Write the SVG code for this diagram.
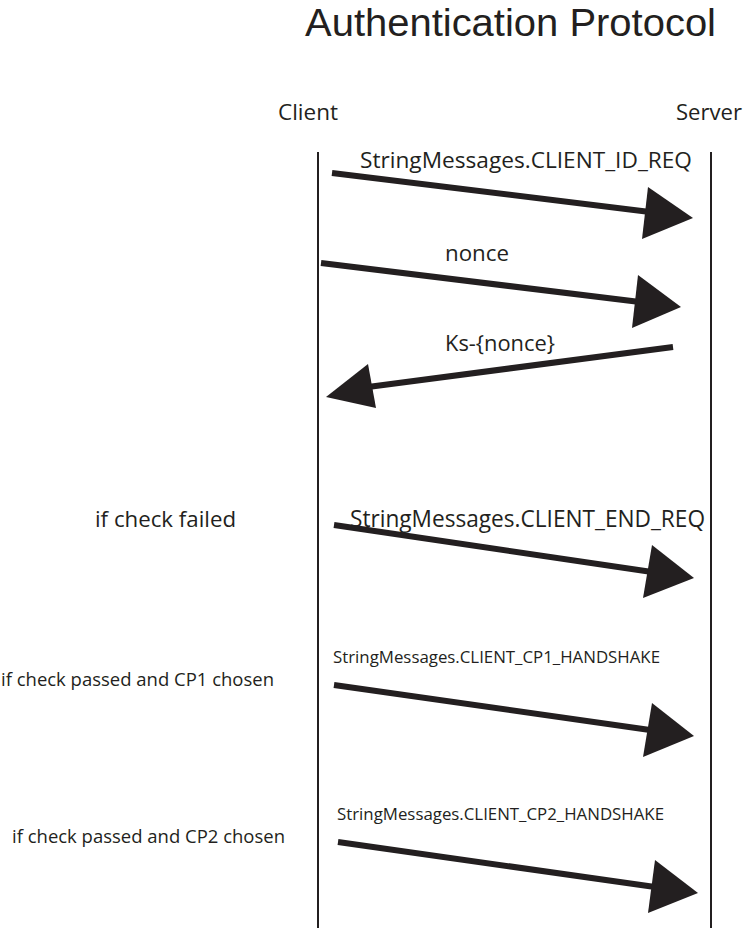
<svg xmlns="http://www.w3.org/2000/svg" width="743" height="930" viewBox="0 0 743 930">
<style>
text{font-family:"Open Sans","Liberation Sans",sans-serif;fill:#231f20}
.life{stroke:#231f20;stroke-width:2;fill:none}
.shaft{stroke:#231f20;stroke-width:6;fill:none}
.head{fill:#231f20}
</style>
<rect width="743" height="930" fill="#fff"/>
<g id="title"><text x="305" y="36" font-size="38" style="font-family:'Liberation Sans',Arial,sans-serif" textLength="411" lengthAdjust="spacingAndGlyphs">Authentication Protocol</text></g>
<g id="client"><text x="278" y="120" font-size="22" textLength="60" lengthAdjust="spacingAndGlyphs">Client</text><line class="life" x1="318" y1="152" x2="318" y2="928"/></g>
<g id="server"><text x="676" y="120" font-size="22" textLength="66" lengthAdjust="spacingAndGlyphs">Server</text><line class="life" x1="711" y1="152" x2="711" y2="928"/></g>
<g id="conditions">
<text x="95" y="527" font-size="22" textLength="141" lengthAdjust="spacingAndGlyphs">if check failed</text>
<text x="1" y="686" font-size="19" textLength="273" lengthAdjust="spacingAndGlyphs">if check passed and CP1 chosen</text>
<text x="12" y="843" font-size="19" textLength="273" lengthAdjust="spacingAndGlyphs">if check passed and CP2 chosen</text>
</g>
<g id="connectors">
<g id="m1"><line class="shaft" x1="332" y1="173" x2="650" y2="212"/><polygon class="head" points="648,187 693,218 642,239"/><text x="360" y="168" font-size="22" textLength="332" lengthAdjust="spacingAndGlyphs">StringMessages.CLIENT_ID_REQ</text></g>
<g id="m2"><line class="shaft" x1="321" y1="263" x2="640" y2="302"/><polygon class="head" points="638,275 681,307 632,328"/><text x="445" y="261" font-size="22" textLength="64" lengthAdjust="spacingAndGlyphs">nonce</text></g>
<g id="m3"><line class="shaft" x1="673" y1="347" x2="368" y2="387"/><polygon class="head" points="368,364 326,397 376,408"/><text x="445" y="351" font-size="22" textLength="110" lengthAdjust="spacingAndGlyphs">Ks-{nonce}</text></g>
<g id="m4"><line class="shaft" x1="334" y1="525" x2="652" y2="572"/><polygon class="head" points="652,545 694,578 643,598"/><text x="350" y="527" font-size="24" textLength="355" lengthAdjust="spacingAndGlyphs">StringMessages.CLIENT_END_REQ</text></g>
<g id="m5"><line class="shaft" x1="334" y1="685" x2="650" y2="730"/><polygon class="head" points="652,703 694,736 643,757"/><text x="333" y="663" font-size="16" textLength="327" lengthAdjust="spacingAndGlyphs">StringMessages.CLIENT_CP1_HANDSHAKE</text></g>
<g id="m6"><line class="shaft" x1="338" y1="842" x2="655" y2="887"/><polygon class="head" points="655,860 698,893 648,913"/><text x="337" y="820" font-size="16" textLength="327" lengthAdjust="spacingAndGlyphs">StringMessages.CLIENT_CP2_HANDSHAKE</text></g>
</g>
</svg>
